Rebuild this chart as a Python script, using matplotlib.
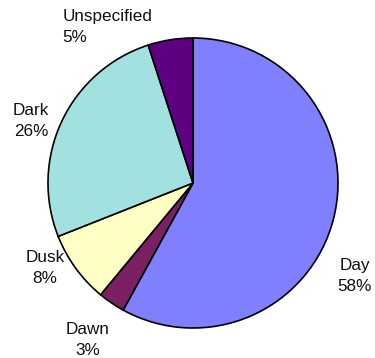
import matplotlib
matplotlib.use("Agg")
import matplotlib.pyplot as plt

# Share of records by light condition
categories = ["Day", "Dawn", "Dusk", "Dark", "Unspecified"]
percent = [58, 3, 8, 26, 5]
colors = ["#8080FF", "#7B2163", "#FFFFC6", "#A3E1E1", "#5E0080"]

# Label anchor positions (in pie-radius units) and alignment
label_pos = [(1.117, -0.641), (-0.724, -1.083), (-1.021, -0.586),
             (-1.117, 0.428), (-0.90, 1.075)]
label_ha = ["center", "center", "center", "center", "left"]

W, H, DPI = 375, 358, 100
fig = plt.figure(figsize=(W / DPI, H / DPI), dpi=DPI)
cx, cy, r = 193, 183, 145
ax = fig.add_axes([(cx - r) / W, (H - cy - r) / H, 2 * r / W, 2 * r / H])
ax.set_xlim(-1, 1)
ax.set_ylim(-1, 1)
ax.set_aspect("equal")
ax.axis("off")

ax.pie(percent, colors=colors, startangle=90, counterclock=False,
       radius=1, wedgeprops=dict(edgecolor="black", linewidth=1.2),
       frame=False)
ax.set_xlim(-1, 1)
ax.set_ylim(-1, 1)

for name, val, (x, y), ha in zip(categories, percent, label_pos, label_ha):
    ax.text(x, y, f"{name}\n{val}%", ha=ha, va="center",
            multialignment=ha, fontsize=12.3, family="Liberation Sans",
            color="#111111", linespacing=1.5, clip_on=False)

fig.savefig("out.png", dpi=DPI)
